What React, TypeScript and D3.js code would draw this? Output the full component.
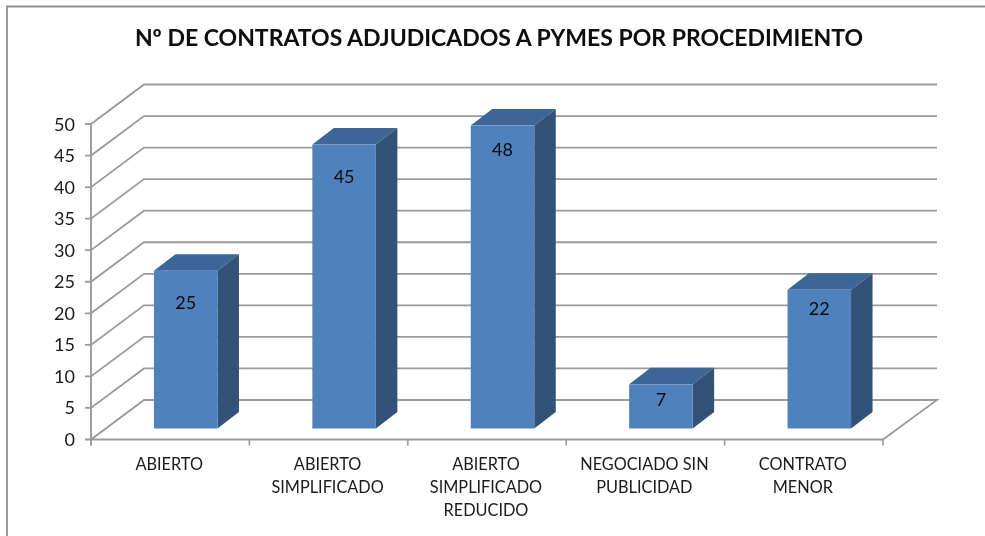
import React from "react";
import * as d3 from "d3";

const categories = ["ABIERTO", "ABIERTO SIMPLIFICADO", "ABIERTO SIMPLIFICADO REDUCIDO", "NEGOCIADO SIN PUBLICIDAD", "CONTRATO MENOR"];
const categoryLines = [["ABIERTO"], ["ABIERTO", "SIMPLIFICADO"], ["ABIERTO", "SIMPLIFICADO", "REDUCIDO"], ["NEGOCIADO SIN", "PUBLICIDAD"], ["CONTRATO", "MENOR"]];
const values = [25, 45, 48, 7, 22];
const yTicks = [0, 5, 10, 15, 20, 25, 30, 35, 40, 45, 50];
const title = "Nº DE CONTRATOS ADJUDICADOS A PYMES POR PROCEDIMIENTO";

const W = 985, H = 536;
const depthX = 53, depthY = 39.5;
const barDX = 21.5, barDY = 16.5;
const baseLift = 11;
const barW = 63.5;
const barShift = 15.5;
const labelDrop = [38, 38, 30, 22, 25];
const font = "Lato, Carlito, 'Open Sans', sans-serif";
const grid = "#9a9a9a";

export default function App() {
  const y = d3.scaleLinear().domain([0, 50]).range([439.5, 124]);
  const x = d3.scaleBand().domain(categories).range([91, 883]);
  const x0 = 91, x1 = 883;
  const line = d3.line();
  return (
    <svg width={W} height={H} style={{ position: "absolute", left: 0, top: 0, background: "#fff" }}>
      <defs>
        <filter id="soft" x="-5%" y="-5%" width="110%" height="110%">
          <feGaussianBlur stdDeviation="0.45" />
        </filter>
      </defs>
      <g filter="url(#soft)">
        <path d={line([[7, 536], [7, 6.5], [985, 6.5]]) as string} fill="none" stroke="#8f8f8f" strokeWidth={1.8} />
        <text x={499} y={46} textAnchor="middle" fontFamily={font} fontWeight={700} fontSize={23} fill="#0a0a0a">{title}</text>

        {yTicks.map((t) => (
          <path key={t}
            d={(t === 0
              ? line([[x0 - 6, y(t)], [x0, y(t)], [x0 + depthX, y(t) - depthY], [x1 + depthX + 1, y(t) - depthY], [x1, y(t)]])
              : line([[x0 - 6, y(t)], [x0, y(t)], [x0 + depthX, y(t) - depthY], [x1 + depthX + 1, y(t) - depthY]])) as string}
            fill="none" stroke={grid} strokeWidth={1.8} />
        ))}
        <path d={line([[x0, y(50)], [x0, y(0) + 6]]) as string} fill="none" stroke={grid} strokeWidth={1.9} />
        <path d={line([[x0, y(0)], [x1, y(0)]]) as string} fill="none" stroke={grid} strokeWidth={1.9} />
        {categories.map((c) => (
          <path key={c} d={line([[x(c) as number, y(0)], [x(c) as number, y(0) + 6]]) as string} stroke={grid} strokeWidth={1.6} fill="none" />
        ))}
        <path d={line([[x1, y(0)], [x1, y(0) + 6]]) as string} stroke={grid} strokeWidth={1.6} fill="none" />

        {yTicks.map((t) => (
          <text key={t} x={75} y={y(t) + 6.5} textAnchor="end" fontFamily={font} fontSize={18} fill="#1a1a1a">{t}</text>
        ))}

        {categories.map((c, i) => {
          const l = (x(c) as number) + x.bandwidth() / 2 + barShift - barW / 2;
          const r = l + barW;
          const b = y(0) - baseLift;
          const t = b - (y(0) - y(values[i]));
          return (
            <g key={c}>
              <path d={line([[l, t], [l + barDX, t - barDY], [r + barDX, t - barDY], [r, t]]) as string + "Z"} fill="#3c6595" />
              <path d={line([[r, t], [r + barDX, t - barDY], [r + barDX, b - barDY], [r, b]]) as string + "Z"} fill="#325277" />
              <rect x={l} y={t} width={barW} height={b - t} fill="#4f81bd" />
              <text x={l + barW / 2} y={t + labelDrop[i]} textAnchor="middle" fontFamily={font} fontSize={18} fill="#0d0d0d">{values[i]}</text>
            </g>
          );
        })}

        {categories.map((c, i) => (
          <text key={c} textAnchor="middle" fontFamily={font} fontSize={16.3} fill="#1a1a1a">
            {categoryLines[i].map((s, j) => (
              <tspan key={j} x={(x(c) as number) + x.bandwidth() / 2 - 1} y={470 + j * 23}>{s}</tspan>
            ))}
          </text>
        ))}
      </g>
    </svg>
  );
}
